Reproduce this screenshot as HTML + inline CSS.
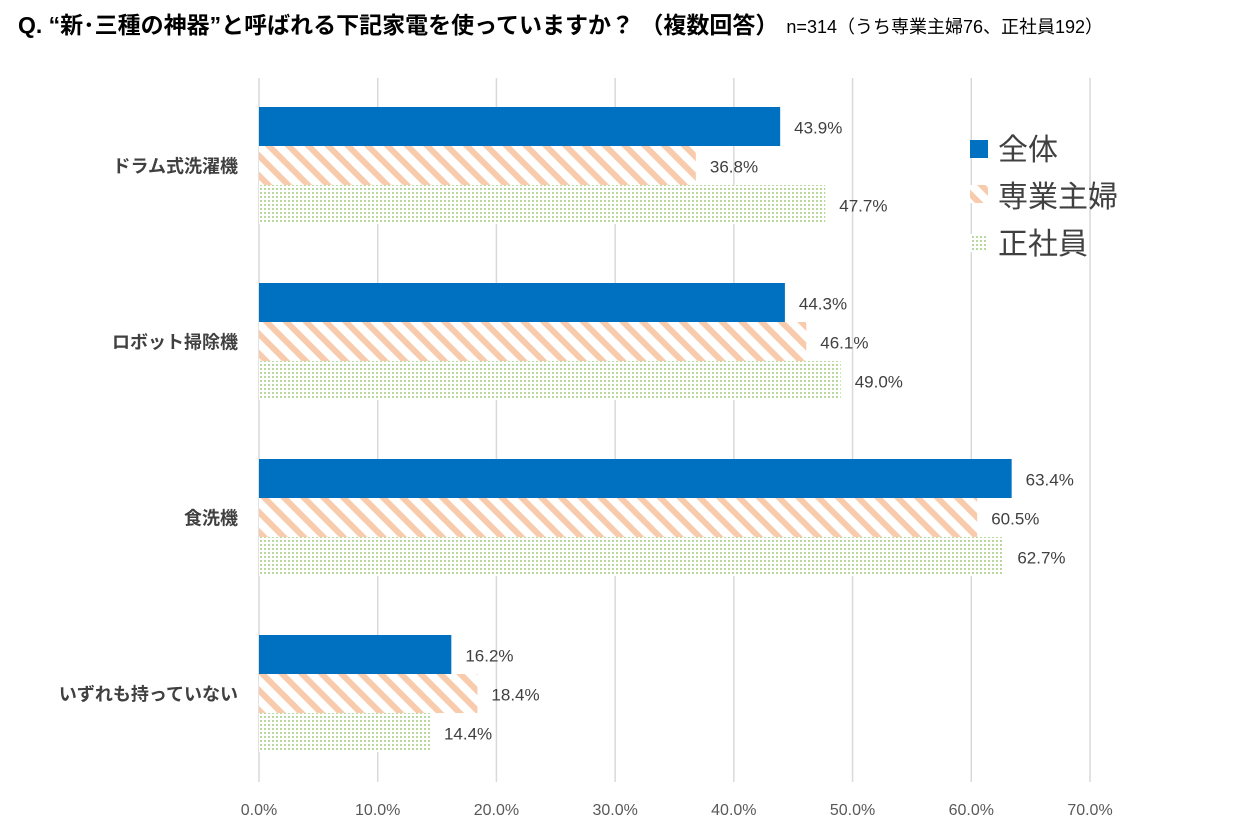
<!DOCTYPE html>
<html><head><meta charset="utf-8"><style>
body{margin:0;background:#fff;width:1233px;height:838px;overflow:hidden;font-family:"Liberation Sans","Noto Sans CJK JP",sans-serif}
</style></head><body>
<svg id="c" width="1233" height="838" style="position:absolute;left:0;top:0">
<defs>
<pattern id="stripe" patternUnits="userSpaceOnUse" width="14" height="14" patternTransform="rotate(-45)">
<rect width="14" height="14" fill="#fff"/><rect width="6" height="14" fill="#f8cbad"/></pattern>
<pattern id="dots" patternUnits="userSpaceOnUse" width="4" height="4">
<rect width="4" height="4" fill="#fff"/><rect width="2" height="2" fill="#b8d89e"/></pattern>
</defs>
<text x="18" y="33" font-size="23" font-weight="bold" fill="#000">Q. “新･三種の神器”と呼ばれる下記家電を使っていますか？ （複数回答）<tspan font-size="18" font-weight="normal" dx="8">n=314（うち専業主婦76、正社員192）</tspan></text>
<g id="grid"></g><g id="bars"></g><g id="labels"></g>
<g>
<rect x="970" y="140" width="18" height="18" fill="#0070c0"/>
<text x="998" y="160" font-size="30" fill="#404040">全体</text>
<rect x="970" y="185" width="18" height="18" fill="url(#stripe)"/>
<text x="998" y="207" font-size="30" fill="#404040">専業主婦</text>
<rect x="970" y="234" width="18" height="18" fill="url(#dots)"/>
<text x="998" y="254" font-size="30" fill="#404040">正社員</text>
</g>
</svg>
<script>
const categories=["ドラム式洗濯機","ロボット掃除機","食洗機","いずれも持っていない"];
const seriesAll=[43.9,44.3,63.4,16.2];
const seriesHousewife=[36.8,46.1,60.5,18.4];
const seriesEmployee=[47.7,49.0,62.7,14.4];
const ticks=[0,10,20,30,40,50,60,70];
const NS="http://www.w3.org/2000/svg";
const x0=259,pxPer=(1090-259)/70,top0=107,groupStep=176,barH=39;
const X=v=>x0+v*pxPer;
function mk(t,a,p){const e=document.createElementNS(NS,t);for(const k in a)e.setAttribute(k,a[k]);p.appendChild(e);return e;}
const grid=document.getElementById('grid'),bars=document.getElementById('bars'),labels=document.getElementById('labels');
ticks.forEach(t=>{
 const l=mk('line',{x1:X(t),x2:X(t),y1:78,y2:782,stroke:'#d9d9d9','stroke-width':1.5},grid);
 
 
 const tx=mk('text',{x:X(t),y:815,'text-anchor':'middle','font-size':16,fill:'#595959'},grid);
 tx.textContent=t.toFixed(1)+'%';
 
 
});
const series=[[seriesAll,'#0070c0'],[seriesHousewife,'url(#stripe)'],[seriesEmployee,'url(#dots)']];
categories.forEach((c,i)=>{
 const gy=top0+i*groupStep;
 const ct=mk('text',{x:238,y:gy+barH*1.5+7,'text-anchor':'end','font-size':18,'font-weight':'bold',fill:'#404040'},labels);
 ct.textContent=c;
 
 
 series.forEach((s,j)=>{
  const v=s[0][i],y=gy+j*barH;
  const r=mk('rect',{x:x0,y:y,width:X(v)-x0,height:barH,fill:s[1]},bars);
  
  
  const t=mk('text',{x:X(v)+14,y:y+barH/2+7,'font-size':17,fill:'#404040'},labels);
  t.textContent=v.toFixed(1)+'%';
  
  
 });
});
</script>
</body></html>
